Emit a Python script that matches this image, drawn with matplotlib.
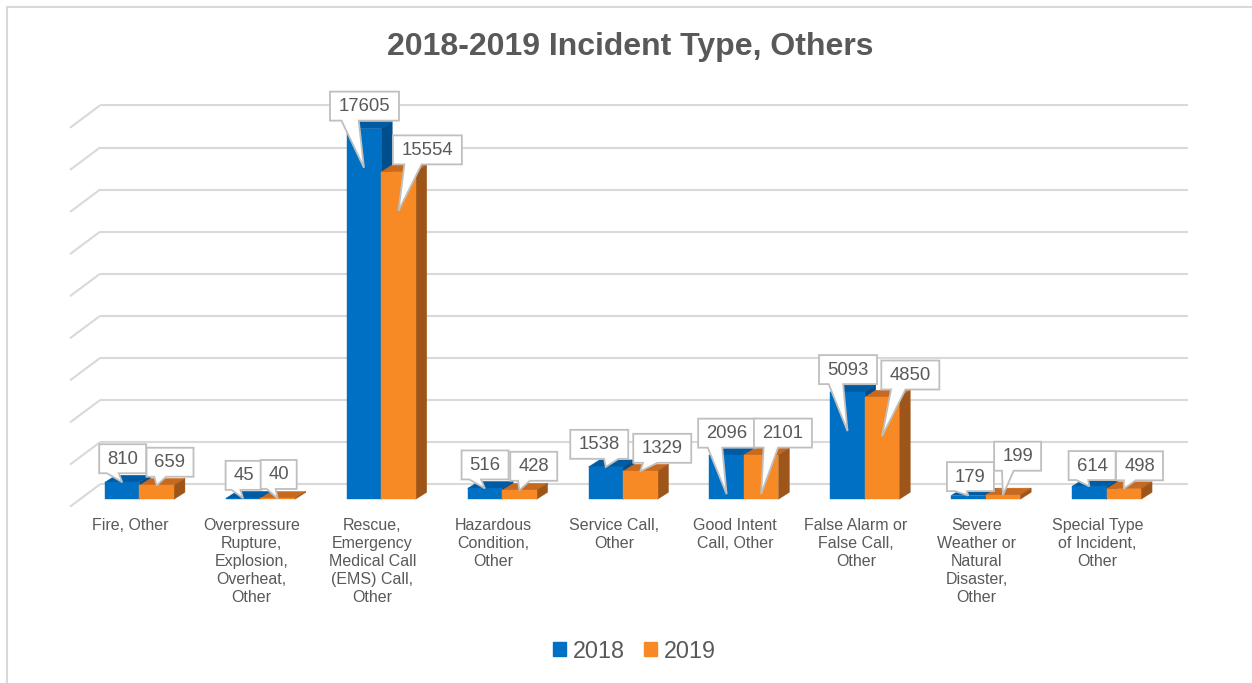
import numpy as np
import matplotlib.pyplot as plt
import matplotlib.transforms as mtransforms
from matplotlib.patches import Polygon, Patch
from matplotlib.lines import Line2D

plt.rcParams['font.family'] = ['Liberation Sans', 'DejaVu Sans']

title = "2018-2019 Incident Type, Others"
categories = ["Fire, Other",
              "Overpressure\nRupture,\nExplosion,\nOverheat,\nOther",
              "Rescue,\nEmergency\nMedical Call\n(EMS) Call,\nOther",
              "Hazardous\nCondition,\nOther",
              "Service Call,\nOther",
              "Good Intent\nCall, Other",
              "False Alarm or\nFalse Call,\nOther",
              "Severe\nWeather or\nNatural\nDisaster,\nOther",
              "Special Type\nof Incident,\nOther"]
years = ["2018", "2019"]
incidents_2018 = [810, 45, 17605, 516, 1538, 2096, 5093, 179, 614]
incidents_2019 = [659, 40, 15554, 428, 1329, 2101, 4850, 199, 498]

# callout boxes: centre relative to the pointer tip (pixels, y pointing down)
callout_2018 = [(0.5, -23.5), (0.5, -23), (0.5, -61.6), (0.2, -23.5), (-6.5, -22.6),
                (0.5, -61), (0.5, -61.5), (2, -18.9), (2.8, -20.8)]
callout_2019 = [(13.3, -23.2), (1.1, -24), (28.9, -61), (14.4, -24), (22, -23),
                (21.8, -61), (28.3, -61.2), (14.7, -38.9), (15.7, -23)]
# how far below the top of the bar the pointer ends (pixels)
tip_drop_2018 = [0, 0, 39, 0, 0, 39, 39, 0, 0]
tip_drop_2019 = [0, 0, 39, 0, 0, 39, 39, 0, 0]

blue = ['#0070C4', '#005BA3', '#004E8C']      # front, top, side
orange = ['#F78A24', '#C7691F', '#9E5519']
grid_c = '#D9D9D9'
text_c = '#595959'
box_c = '#BFBFBF'

W, H = 1252, 683
fig = plt.figure(figsize=(W / 100, H / 100), dpi=100)

# front edge of the floor in pixels, and the value scale
px_left, px_right, px_floor = 70, 1158, 506.7
px_per_unit = 42.1 / 2000
ymax = 21000
n = len(categories)
px_per_cat = (px_right - px_left) / n

ax = fig.add_axes([px_left / W, 1 - px_floor / H,
                   (px_right - px_left) / W, ymax * px_per_unit / H])
ax.set_xlim(-0.5, n - 0.5)
ax.set_ylim(0, ymax)
ax.patch.set_visible(False)
for s in ax.spines.values():
    s.set_visible(False)
ax.set_yticks([])
ax.set_xticks(np.arange(n))
ax.set_xticklabels(categories, fontsize=11.5, color=text_c, linespacing=1.25)
ax.tick_params(axis='x', length=0, pad=8)


def px(dx, dy):
    # pixel offset -> data offset (dy measured upwards)
    return dx / px_per_cat, dy / px_per_unit


wall = px(30, 22.4)     # back wall behind the front edge
front = px(9, 7.4)      # front face of the bars
depth = px(11, 7)       # bar thickness
bw = 34.5 / px_per_cat

# back wall grid and the left floor/side edges
for g in range(0, 20000, 2000):
    ax.plot([-0.5 + wall[0], n - 0.5 + wall[0]], [g + wall[1]] * 2,
            color=grid_c, lw=1.5, zorder=1, clip_on=False, solid_capstyle='butt')
    ax.plot([-0.5, -0.5 + wall[0]], [g, g + wall[1]],
            color=grid_c, lw=1.5, zorder=1, clip_on=False, solid_capstyle='butt')


def callout(x, y, text, off, z):
    dx, dy = off
    w = 14 + 11 * len(text)
    h = 29
    l, r = dx - w / 2, dx + w / 2
    t, b = dy - h / 2, dy + h / 2
    g1, g2 = (7, 10) if dx < 0 else (2, 5)
    x1, x2 = l + w * g1 / 12, l + w * g2 / 12
    verts = [(l, t), (r, t), (r, b), (x2, b), (0, 0), (x1, b), (l, b)]
    trans = mtransforms.Affine2D().scale(1, -1) + \
        mtransforms.ScaledTranslation(x, y, ax.transData)
    ax.add_patch(Polygon(verts, closed=True, transform=trans, fc='white', ec=box_c,
                         lw=1.3, zorder=z, clip_on=False, joinstyle='miter'))
    ax.text(dx, dy + 0.5, text, transform=trans, ha='center', va='center',
            fontsize=13.3, color=text_c, zorder=z + 0.5, clip_on=False)


series = [(incidents_2018, blue, callout_2018, tip_drop_2018),
          (incidents_2019, orange, callout_2019, tip_drop_2019)]

for k, (vals, cols, offs, drops) in enumerate(series):
    left = np.arange(n) + (k - 1) * bw + front[0]
    z = 2 + 2 * k
    ax.bar(left, vals, width=bw, bottom=front[1], align='edge', color=cols[0],
           edgecolor=cols[0], lw=0.3, zorder=z + 1, clip_on=False)
    for i, v in enumerate(vals):
        x0, x1 = left[i], left[i] + bw
        y0, y1 = front[1], front[1] + v
        top = [(x0, y1), (x1, y1), (x1 + depth[0], y1 + depth[1]), (x0 + depth[0], y1 + depth[1])]
        side = [(x1, y0), (x1, y1), (x1 + depth[0], y1 + depth[1]), (x1 + depth[0], y0 + depth[1])]
        ax.add_patch(Polygon(top, closed=True, fc=cols[1], ec=cols[1], lw=0.3, zorder=z, clip_on=False))
        ax.add_patch(Polygon(side, closed=True, fc=cols[2], ec=cols[2], lw=0.3, zorder=z, clip_on=False))

for k, (vals, cols, offs, drops) in enumerate(series):
    for i, v in enumerate(vals):
        tx = i + (k - 1) * bw + bw / 2 + front[0]
        ty = v + front[1] - drops[i] / px_per_unit
        callout(tx, ty, str(v), offs[i], 10 + k + i * 0.01)

fig.text(630 / W, 1 - 47 / H, title, ha='center', va='center', fontsize=23,
         fontweight='bold', color=text_c)

handles = [Patch(color=blue[0]), Patch(color=orange[0])]
fig.legend(handles, years, loc='center', bbox_to_anchor=(634.5 / W, 1 - 651 / H), ncol=2,
           frameon=False, fontsize=16.8, handlelength=0.55, handleheight=0.55,
           handletextpad=0.3, columnspacing=0.8, labelcolor=text_c)

# chart border
fig.add_artist(Line2D([6.5 / W, 6.5 / W], [0, 1 - 7 / H], color=grid_c, lw=1.5))
fig.add_artist(Line2D([6.5 / W, 1], [1 - 7 / H, 1 - 7 / H], color=grid_c, lw=1.5))

fig.savefig('out.png', dpi=100)
